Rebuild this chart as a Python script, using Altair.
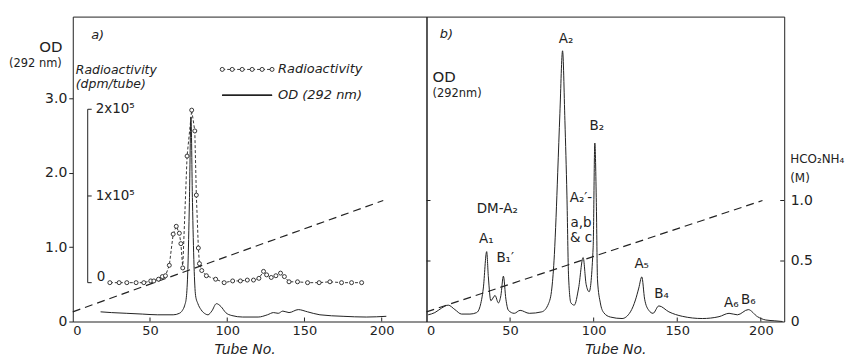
import altair as alt
import pandas as pd

# ---------------- data ----------------
# Panel a) OD (292 nm) trace
od_a_tube = [18, 25, 35, 45, 55, 65, 69, 71, 72.5, 73.5, 74.5, 75.5, 76.5, 77.5, 78.5, 79.5,
             81, 83, 86, 87.5, 90, 93, 96, 99, 103, 110, 120, 126, 130, 133, 136, 140,
             146, 152, 160, 175, 190, 203]
od_a_value = [0.13, 0.12, 0.11, 0.10, 0.09, 0.09, 0.11, 0.15, 0.22, 0.32, 0.7, 1.6, 2.75, 1.6,
              0.75, 0.35, 0.24, 0.16, 0.10, 0.09, 0.14, 0.24, 0.20, 0.12, 0.08, 0.06, 0.06,
              0.09, 0.12, 0.11, 0.14, 0.12, 0.16, 0.13, 0.09, 0.07, 0.06, 0.07]

# Panel a) radioactivity, in units of 1e5 dpm/tube
rad_tube = [24, 30, 35, 41, 46, 50.5, 52.5, 55.5, 58, 60, 62.5, 65, 67, 69, 70, 71.2, 74, 77,
            79, 80, 81.3, 82, 83.5, 86.5, 92.5, 98, 103.5, 108.5, 113, 117, 120.5, 123.5,
            125.5, 128.5, 131.5, 134.5, 137, 140, 145.5, 152, 159.5, 166.5, 174, 180.5, 187]
rad_value = [0.0, 0.0, 0.0, 0.0, 0.0, 0.02, 0.02, 0.04, 0.07, 0.08, 0.2, 0.56, 0.65, 0.57,
             0.45, 0.17, 1.46, 1.99, 1.75, 1.01, 0.4, 0.22, 0.14, 0.08, 0.04, 0.0, 0.02, 0.02,
             0.03, 0.03, 0.05, 0.13, 0.09, 0.06, 0.08, 0.11, 0.07, 0.01, 0.01, 0.0, 0.0, 0.01,
             0.0, 0.0, 0.0]

# HCO2NH4 gradient (M), both panels
grad_tube = [0, 201]
grad_molar = [0.08, 1.0]

# Panel b) OD (292 nm) trace
od_b_tube = [1, 5, 9, 13, 17, 21, 26, 30, 32, 34, 36, 37, 38.5, 41, 43, 44.5, 46, 47.5, 49,
             52.5, 56, 61.5, 69, 73, 75, 76.5, 77.5, 78.5, 79.8, 81.4, 82.8, 84, 85, 86.4,
             88.4, 91, 93.7, 95.5, 97.3, 99.7, 100.7, 101.6, 102.3, 104, 106, 110, 117, 122,
             125, 127, 128.8, 130.5, 133, 135.5, 139, 145, 153, 165, 175, 181, 186, 192.5,
             198, 203, 208, 213]
od_b_value = [0.09, 0.12, 0.18, 0.22, 0.16, 0.10, 0.10, 0.12, 0.2, 0.45, 0.94, 0.6, 0.28,
              0.35, 0.25, 0.35, 0.61, 0.3, 0.15, 0.11, 0.15, 0.11, 0.13, 0.24, 0.45, 0.9,
              1.4, 2.0, 2.8, 3.64, 2.7, 1.7, 0.6, 0.25, 0.22, 0.45, 0.86, 0.5, 0.40, 1.0,
              2.4, 1.6, 0.56, 0.25, 0.12, 0.06, 0.04, 0.13, 0.29, 0.45, 0.6, 0.3, 0.15,
              0.11, 0.21, 0.13, 0.07, 0.04, 0.065, 0.11, 0.09, 0.16, 0.065, 0.02, 0.01, 0.0]

# ticks
x_ticks = [0, 50, 100, 150, 200]
od_ticks = [0, 1, 2, 3]
rad_ticks = [0, 1, 2]
rad_tick_labels = ["0", "1x10⁵", "2x10⁵"]
molar_ticks = [0, 0.5, 1.0]

# peak labels of panel b)
peak_text = ["A₂", "B₂", "DM-A₂", "A₂′-", "a,b", "& c", "A₁", "B₁′", "A₅", "B₄", "A₆", "B₆"]

# ---------------- layout / style ----------------
WA, WB, H = 355, 359, 306
XA_DOM, XB_DOM = [0, 229], [0, 214]
OD_DOM = [0, 4.1]
M_DOM = [0, 2.52]
RAD_DOM = [-0.448, 3.069]
INK = "#222222"
FONT = "DejaVu Sans"

df_od_a = pd.DataFrame({"tube": od_a_tube, "od": od_a_value})
df_rad = pd.DataFrame({"tube": rad_tube, "rad": rad_value})
df_grad = pd.DataFrame({"tube": grad_tube, "m": grad_molar})
df_od_b = pd.DataFrame({"tube": od_b_tube, "od": od_b_value})

label_expr = "datum.value == 0 ? '0' : format(datum.value, '.1f')"


def xenc(dom, field="tube"):
    return alt.X(f"{field}:Q", scale=alt.Scale(domain=dom, nice=False, zero=False),
                 axis=alt.Axis(values=x_ticks, ticks=False, domain=False, grid=False,
                               labelFontSize=13, labelPadding=3, title=None,
                               labelColor=INK, labelFont=FONT))


def yscale(dom):
    return alt.Scale(domain=dom, nice=False, zero=False)


def texts(rows, size, style="normal", align="center"):
    df = pd.DataFrame(rows, columns=["px", "py", "t"])
    return alt.Chart(df).mark_text(fontSize=size, fontStyle=style, align=align,
                                   baseline="middle", color=INK, font=FONT).encode(
        x=alt.X("px:Q", scale=None), y=alt.Y("py:Q", scale=None), text="t:N")


# ---------------- panel a ----------------
grad_a = alt.Chart(df_grad).mark_line(color=INK, strokeWidth=1.2, strokeDash=[8, 5]).encode(
    x=xenc(XA_DOM), y=alt.Y("m:Q", scale=yscale(M_DOM), axis=None))

od_a = alt.Chart(df_od_a).mark_line(color=INK, strokeWidth=1, interpolate="monotone").encode(
    x=xenc(XA_DOM),
    y=alt.Y("od:Q", scale=yscale(OD_DOM),
            axis=alt.Axis(values=od_ticks, labelExpr=label_expr, tickSize=4, domain=False,
                          grid=False, title=None, labelFontSize=14, labelPadding=2,
                          tickColor=INK, labelColor=INK, labelFont=FONT)))

rad_line = alt.Chart(df_rad).mark_line(color=INK, strokeWidth=0.9, strokeDash=[3, 2]).encode(
    x=xenc(XA_DOM), y=alt.Y("rad:Q", scale=yscale(RAD_DOM), axis=None))

rad_pts = alt.Chart(df_rad).mark_point(shape="circle", size=16, filled=False, fill="white",
                                       fillOpacity=1, stroke=INK, strokeWidth=0.9).encode(
    x=xenc(XA_DOM), y=alt.Y("rad:Q", scale=yscale(RAD_DOM), axis=None))

# inner radioactivity axis
df_rad_axis = pd.DataFrame({"lo": [min(rad_ticks)], "hi": [max(rad_ticks)]})
df_rad_ticks = pd.DataFrame({"r": rad_ticks, "lab": rad_tick_labels})
rad_axis_line = alt.Chart(df_rad_axis).mark_rule(color=INK, strokeWidth=1).encode(
    x=alt.value(15), y=alt.Y("lo:Q", scale=yscale(RAD_DOM), axis=None), y2="hi:Q")
rad_axis_ticks = alt.Chart(df_rad_ticks).mark_rule(color=INK, strokeWidth=1).encode(
    x=alt.value(15), x2=alt.value(19), y=alt.Y("r:Q", scale=yscale(RAD_DOM), axis=None))
rad_axis_labels = alt.Chart(df_rad_ticks).transform_filter("datum.r > 0").mark_text(
    align="left", baseline="middle", fontSize=13.5, color=INK, font=FONT).encode(
    x=alt.value(23), y=alt.Y("r:Q", scale=yscale(RAD_DOM), axis=None), text="lab:N")
rad_axis_zero = alt.Chart(df_rad_ticks).transform_filter("datum.r == 0").mark_text(
    align="left", baseline="bottom", fontSize=13.5, color=INK, font=FONT, dy=1).encode(
    x=alt.value(24), y=alt.Y("r:Q", scale=yscale(RAD_DOM), axis=None), text="lab:N")

# x inward ticks
df_xt = pd.DataFrame({"t": x_ticks[1:]})
xt_a = alt.Chart(df_xt).mark_rule(color=INK).encode(
    x=xenc(XA_DOM, "t"), y=alt.value(H), y2=alt.value(H - 4))

# legend
leg_px = [150, 160, 170, 180, 190, 200]
df_leg = pd.DataFrame({"px": leg_px, "py": [53] * len(leg_px)})
leg_line1 = alt.Chart(df_leg).mark_line(color=INK, strokeWidth=0.9, strokeDash=[3, 2]).encode(
    x=alt.X("px:Q", scale=None), y=alt.Y("py:Q", scale=None))
leg_pts = alt.Chart(df_leg).mark_point(shape="circle", size=16, filled=False, fill="white",
                                       fillOpacity=1, stroke=INK, strokeWidth=0.9).encode(
    x=alt.X("px:Q", scale=None), y=alt.Y("py:Q", scale=None))
leg_line2 = alt.Chart(df_leg).mark_rule(color=INK, strokeWidth=1).encode(
    x=alt.value(150), x2=alt.value(200), y=alt.value(79))

txt_a_big = texts([[-22, 31, "OD"]], 15)
txt_a_small = texts([[-64, 48, "(292 nm)"]], 11.5, align="left")
txt_a_ital = texts([[25, 18, "a)"]], 13, style="italic")
txt_a_ital_l = texts([[3, 54, "Radioactivity"], [3, 68, "(dpm/tube)"]],
                     12.5, style="italic", align="left")
txt_a_leg = texts([[206, 53, "Radioactivity"], [206, 79, "OD (292 nm)"]],
                  13, style="italic", align="left")
txt_a_tube = texts([[173, 335, "Tube   No."]], 14, style="italic")

panel_a = alt.layer(
    grad_a, od_a, rad_line, rad_pts, rad_axis_line, rad_axis_ticks, rad_axis_labels,
    rad_axis_zero, xt_a, leg_line1, leg_pts, leg_line2,
    txt_a_big, txt_a_small, txt_a_ital, txt_a_ital_l, txt_a_leg, txt_a_tube
).resolve_scale(y="independent").properties(width=WA, height=H)

# ---------------- panel b ----------------
grad_b = alt.Chart(df_grad).mark_line(color=INK, strokeWidth=1.2, strokeDash=[8, 5]).encode(
    x=xenc(XB_DOM),
    y=alt.Y("m:Q", scale=yscale(M_DOM),
            axis=alt.Axis(orient="right", values=molar_ticks, labelExpr=label_expr,
                          ticks=False, domain=False, grid=False, title=None,
                          labelFontSize=14, labelPadding=6, labelColor=INK, labelFont=FONT)))

od_b = alt.Chart(df_od_b).mark_line(color=INK, strokeWidth=1, interpolate="monotone").encode(
    x=xenc(XB_DOM), y=alt.Y("od:Q", scale=yscale(OD_DOM), axis=None))

xt_b = alt.Chart(df_xt).mark_rule(color=INK).encode(
    x=xenc(XB_DOM, "t"), y=alt.value(H), y2=alt.value(H - 4))

df_mt = pd.DataFrame({"m": molar_ticks[1:]})
mt_right = alt.Chart(df_mt).mark_rule(color=INK).encode(
    x=alt.value(WB - 4), x2=alt.value(WB), y=alt.Y("m:Q", scale=yscale(M_DOM), axis=None))
mt_left = alt.Chart(df_mt).mark_rule(color=INK).encode(
    x=alt.value(0), x2=alt.value(4), y=alt.Y("m:Q", scale=yscale(M_DOM), axis=None))

peak_pos = [[140, 22], [171, 110], [71, 193], [155, 182], [155, 207], [155, 222],
            [60, 223], [79, 242], [216, 248], [236, 278], [306, 287], [323, 284]]
txt_b_peaks = texts([[p[0], p[1], t] for p, t in zip(peak_pos, peak_text)], 13.5)
txt_b_big = texts([[6, 61, "OD"]], 15, align="left")
txt_b_small = texts([[6, 78, "(292nm)"]], 11.5, align="left")
txt_b_ital = texts([[20, 17, "b)"]], 13, style="italic")
txt_b_m = texts([[365, 143, "HCO₂NH₄"], [365, 162, "(M)"]], 12, align="left")
txt_b_tube = texts([[190, 335, "Tube   No."]], 14, style="italic")

panel_b = alt.layer(
    grad_b, od_b, xt_b, mt_right, mt_left,
    txt_b_peaks, txt_b_big, txt_b_small, txt_b_ital, txt_b_m, txt_b_tube
).resolve_scale(y="independent").properties(width=WB, height=H)

chart = alt.hconcat(panel_a, panel_b, spacing=0, bounds="flush").properties(
    padding={"left": 0, "top": 7, "right": 0, "bottom": 0}
).configure_view(stroke=INK, strokeWidth=1)

chart.save("out.html", embed_options={"renderer": "svg", "actions": False})
